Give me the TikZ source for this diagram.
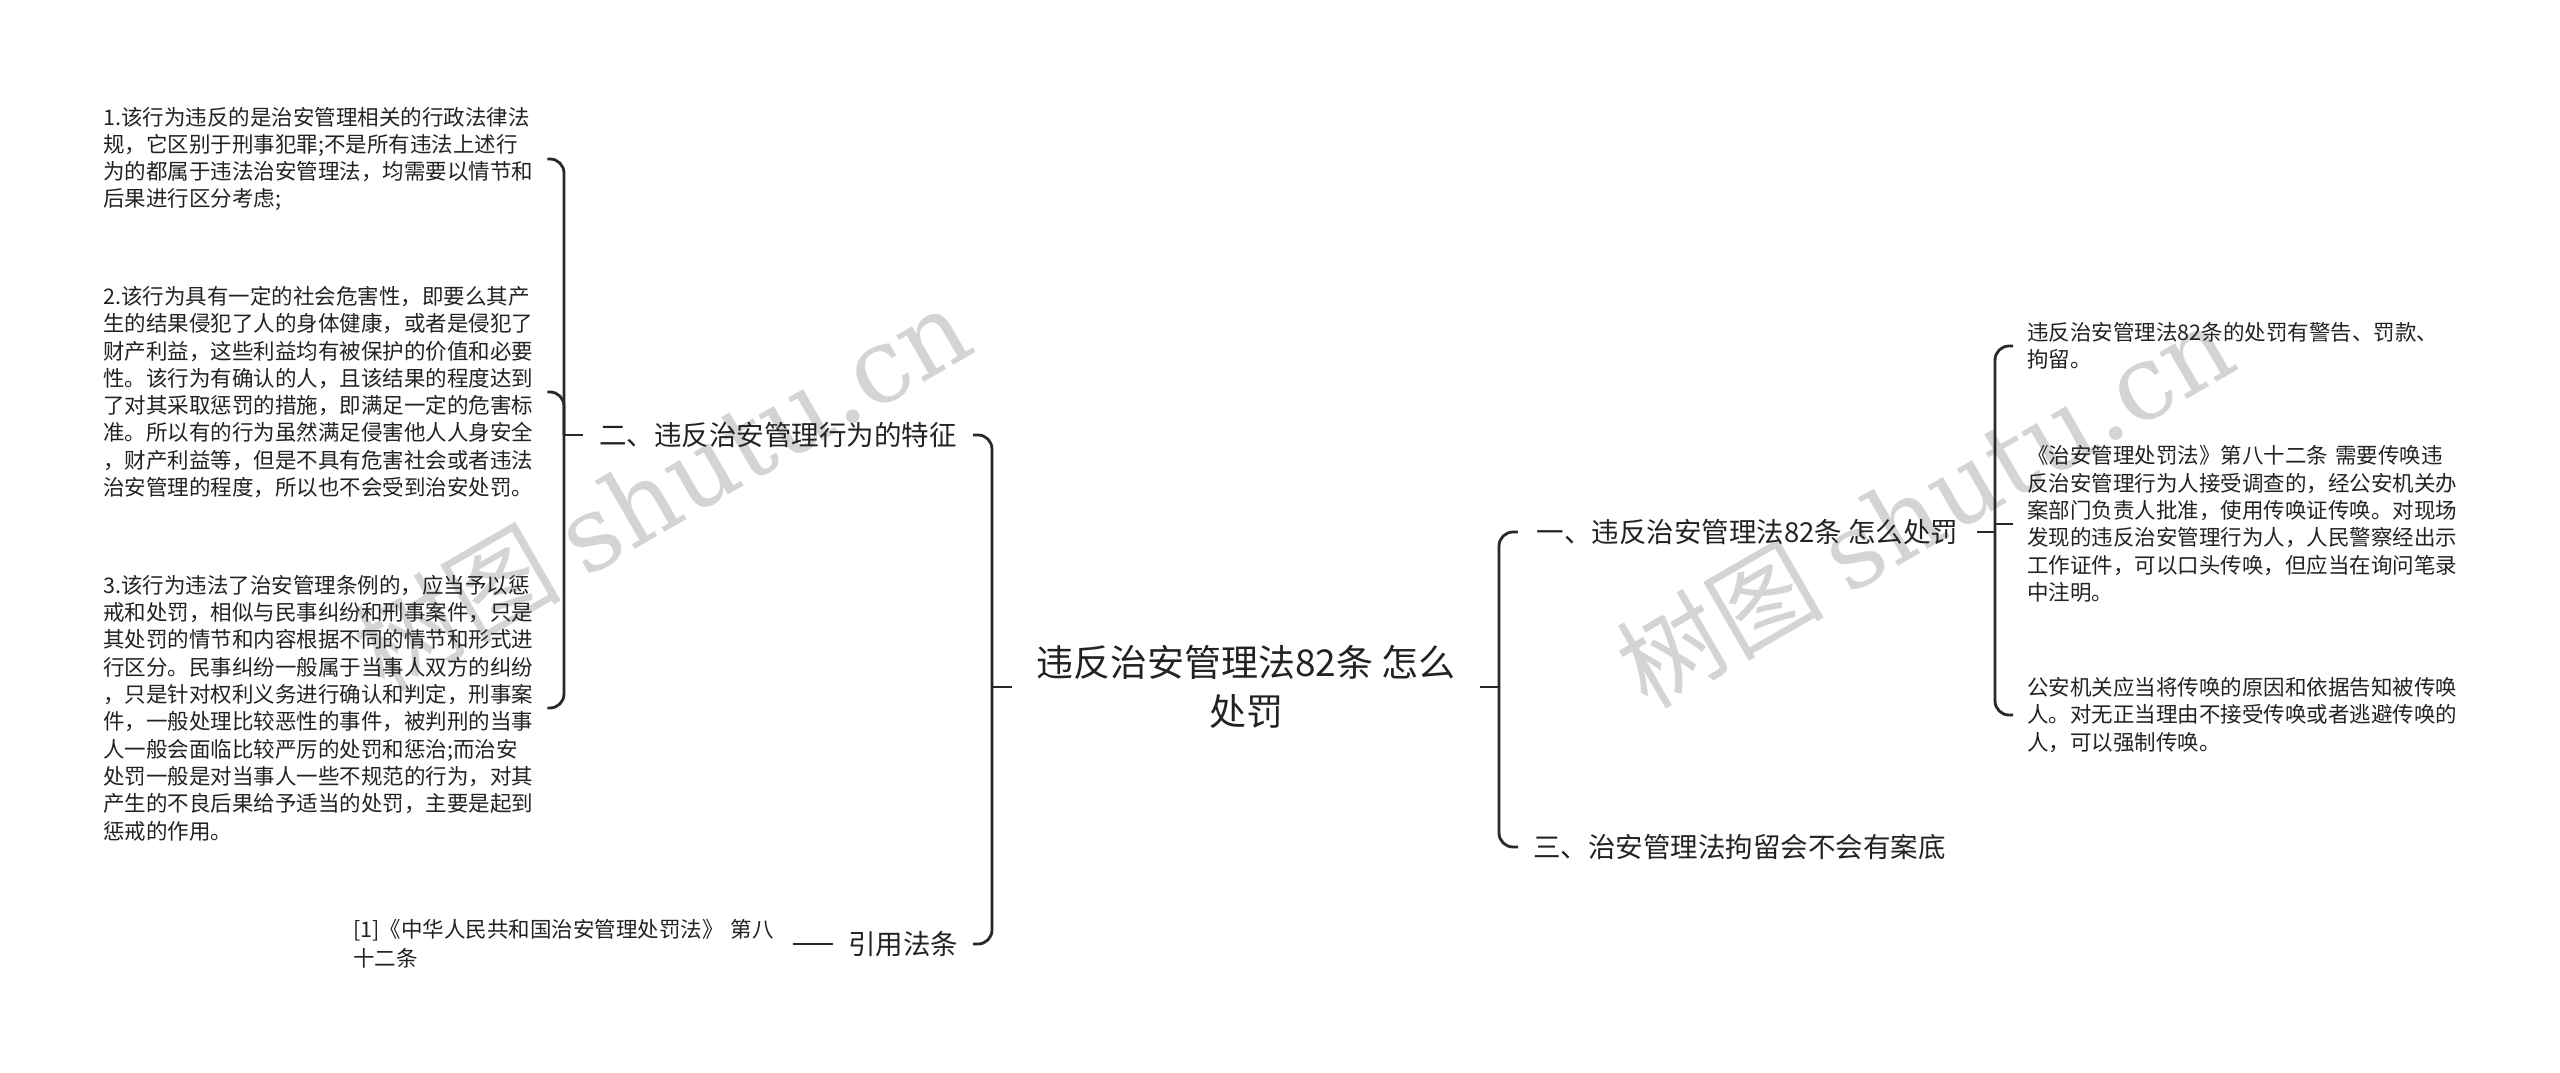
\documentclass[tikz,border=0pt]{standalone}
\usepackage{fontspec}
\newfontfamily\cjk{Noto Sans CJK SC}
\newfontfamily\wmserif{DejaVu Serif}
\definecolor{txt}{RGB}{34,34,34}
\definecolor{linec}{RGB}{40,40,40}
\definecolor{wmc}{RGB}{212,212,212}
\begin{document}
\begin{tikzpicture}[x=1pt,y=-1pt,
  conn/.style={line width=2.8pt, draw=linec},
  bracket/.style={conn, rounded corners=14pt},
  centre/.style={font=\cjk\fontsize{37pt}{49pt}\selectfont, align=center, inner sep=0pt, minimum width=468pt, text=txt},
  lvone/.style={font=\cjk\fontsize{27.5pt}{33pt}\selectfont, inner xsep=0pt, inner ysep=0pt, text=txt},
  leaf/.style={font=\cjk\fontsize{21.5pt}{27.3pt}\selectfont, align=left, inner sep=0pt, text width=444pt, text=txt},
  wm/.style={font=\cjk\fontsize{104pt}{104pt}\selectfont, text=wmc, inner sep=0pt}
]
\path[use as bounding box] (0,0) rectangle (2560,1073);

% watermarks
\node[wm, rotate=30] (wmL) at (662,488) {树图 {\wmserif shutu.cn}};
\node[wm, rotate=30] (wmR) at (1925,505) {树图 {\wmserif shutu.cn}};

% centre
\node[centre] (c) at (1246,687) {违反治安管理法82条 怎么\\处罚};

% level one
\node[lvone, minimum width=390pt] (n2) at (778,435) {二、违反治安管理行为的特征};
\node[lvone, minimum width=140pt] (n3) at (903,944) {引用法条};
\node[lvone, minimum width=459pt] (n1) at (1747.5,532) {一、违反治安管理法82条 怎么处罚};
\node[lvone, anchor=west, inner xsep=15pt] (n4) at (1518,847) {三、治安管理法拘留会不会有案底};

% left leaves
\node[leaf, anchor=west] (l1) at (103,159) {1.该行为违反的是治安管理相关的行政法律法\\规，它区别于刑事犯罪;不是所有违法上述行\\为的都属于违法治安管理法，均需要以情节和\\后果进行区分考虑;};
\node[leaf, anchor=west] (l2) at (103,392) {2.该行为具有一定的社会危害性，即要么其产\\生的结果侵犯了人的身体健康，或者是侵犯了\\财产利益，这些利益均有被保护的价值和必要\\性。该行为有确认的人，且该结果的程度达到\\了对其采取惩罚的措施，即满足一定的危害标\\准。所以有的行为虽然满足侵害他人人身安全\\，财产利益等，但是不具有危害社会或者违法\\治安管理的程度，所以也不会受到治安处罚。};
\node[leaf, anchor=west] (l3) at (103,708) {3.该行为违法了治安管理条例的，应当予以惩\\戒和处罚，相似与民事纠纷和刑事案件，只是\\其处罚的情节和内容根据不同的情节和形式进\\行区分。民事纠纷一般属于当事人双方的纠纷\\，只是针对权利义务进行确认和判定，刑事案\\件，一般处理比较恶性的事件，被判刑的当事\\人一般会面临比较严厉的处罚和惩治;而治安\\处罚一般是对当事人一些不规范的行为，对其\\产生的不良后果给予适当的处罚，主要是起到\\惩戒的作用。};
\node[leaf, anchor=west, text width=440pt, font=\cjk\fontsize{21.5pt}{29pt}\selectfont] (cite) at (353,944) {[1]《中华人民共和国治安管理处罚法》 第八\\十二条};

% right leaves
\node[leaf, anchor=west, inner xsep=14pt, text width=440pt] (r1) at (2013,346) {违反治安管理法82条的处罚有警告、罚款、\\拘留。};
\node[leaf, anchor=west, inner xsep=14pt, text width=440pt] (r2) at (2013,524) {《治安管理处罚法》第八十二条 需要传唤违\\反治安管理行为人接受调查的，经公安机关办\\案部门负责人批准，使用传唤证传唤。对现场\\发现的违反治安管理行为人，人民警察经出示\\工作证件，可以口头传唤，但应当在询问笔录\\中注明。};
\node[leaf, anchor=west, inner xsep=14pt, text width=440pt] (r3) at (2013,715) {公安机关应当将传唤的原因和依据告知被传唤\\人。对无正当理由不接受传唤或者逃避传唤的\\人，可以强制传唤。};

% bracket points
\coordinate (cl) at (992,687);
\coordinate (cr) at (1499,687);
\coordinate (b2) at (564,435);
\coordinate (b1) at (1995,532);

% connectors
\draw[conn] (c.west) -- (cl);
\draw[bracket] (cl) |- (n2.east);
\draw[bracket] (cl) |- (n3.east);
\draw[conn] (c.east) -- (cr);
\draw[bracket] (cr) |- (n1.west);
\draw[bracket] (cr) |- (n4.west);
\draw[conn] (n2.west) -- (b2);
\draw[bracket] (b2) |- (l1.east);
\draw[bracket] (b2) |- (l2.east);
\draw[bracket] (b2) |- (l3.east);
\draw[conn] (cite.east) -- (n3.west);
\draw[conn] (n1.east) -- (b1);
\draw[bracket] (b1) |- (r1.west);
\draw[conn] (b1) |- (r2.west);
\draw[bracket] (b1) |- (r3.west);
\end{tikzpicture}
\end{document}
